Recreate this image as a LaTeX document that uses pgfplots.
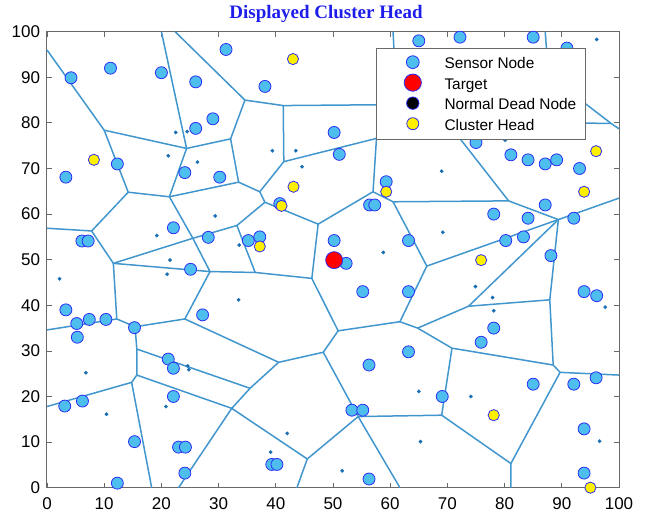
\documentclass[border=0pt]{standalone}
\usepackage{pgfplots}
\pgfplotsset{compat=1.18}
\usepackage{fontspec}
\setmainfont{Liberation Sans}
\newfontfamily\titlefont{Liberation Serif}

\definecolor{edgeblue}{RGB}{66,150,206}
\definecolor{nodefill}{RGB}{77,190,238}
\definecolor{nodeedge}{RGB}{45,45,245}
\definecolor{deadblue}{RGB}{25,110,180}
\definecolor{axisgray}{RGB}{105,105,105}
\definecolor{titleblue}{RGB}{30,30,235}
\definecolor{chyellow}{RGB}{255,240,0}

\pgfplotsset{
  vor/.style={edgeblue, line width=1.5pt, forget plot},
}

\begin{document}
\begin{tikzpicture}
\begin{axis}[
  name=ax,
  scale only axis, width=572pt, height=456pt,
  xmin=0, xmax=100, ymin=0, ymax=100,
  xtick={0,10,...,100}, ytick={0,10,...,100},
  tick align=inside, major tick length=5pt,
  axis line style={axisgray, line width=1pt},
  tick style={axisgray, line width=0.8pt},
  tick label style={font=\fontsize{17}{19}\selectfont},
  /pgf/number format/assume math mode=true,
  xticklabel style={yshift=-6pt},
  yticklabel style={xshift=-3.5pt},
  clip=false,
  title={\titlefont\bfseries Displayed Cluster Head},
  title style={font=\fontsize{19}{22}\selectfont, text=titleblue, xshift=-7pt, yshift=0pt},
  legend style={
    at={(axis cs:94.2,96.5)}, anchor=north east,
    draw=axisgray, line width=1pt, fill=white,
    font=\fontsize{15.4}{18}\selectfont,
    inner xsep=0pt, inner ysep=4.75pt, row sep=0pt,
    nodes={inner sep=0pt},
    cells={anchor=base west},
  },
  legend image code/.code={
    \draw[#1] plot coordinates {(0pt,6.5pt)};
    \path[draw=none, fill=none] (-36.6pt,-4.75pt) rectangle (31.7pt,15.75pt);
  },
]

% ---- legend entries ----
\addlegendimage{mark=*, mark size=6.4pt, mark options={fill=nodefill, draw=nodeedge, line width=0.8pt}}
\addlegendentry{Sensor Node}
\addlegendimage{mark=*, mark size=8.6pt, mark options={fill=red, draw=nodeedge, line width=0.8pt}}
\addlegendentry{Target}
\addlegendimage{mark=*, mark size=6.2pt, mark options={fill=black, draw=nodeedge, line width=0.8pt}}
\addlegendentry{Normal Dead Node\hspace*{9pt}}
\addlegendimage{mark=*, mark size=6.0pt, mark options={fill=chyellow, draw=nodeedge, line width=0.8pt}}
\addlegendentry{Cluster Head}

% ---- Voronoi edges ----
\addplot[vor] coordinates {(0,96) (10.0,78.4) (24.4,74.4) (32.1,76.5) (34.6,85.0) (41.3,83.8) (60,84)};
\addplot[vor] coordinates {(10.0,78.4) (14.2,64.8) (21.4,63.8) (24.4,74.4) (20.0,100)};
\addplot[vor] coordinates {(22.4,100) (34.6,85.0)};
\addplot[vor] coordinates {(32.1,76.5) (33.5,67.0) (21.4,63.8)};
\addplot[vor] coordinates {(33.5,67.0) (37.2,64.9) (41.4,71.5) (41.3,83.8)};
\addplot[vor] coordinates {(41.4,71.5) (57.6,76.6) (59,77.2)};
\addplot[vor] coordinates {(57.7,77.5) (57.6,76.6) (57.0,64.9) (47.4,57.8) (38.1,62.6) (37.2,64.9)};
\addplot[vor] coordinates {(57.0,64.9) (60.5,62.7) (80.7,62.9) (71.8,77.2)};
\addplot[vor] coordinates {(38.1,62.6) (33.2,57.5) (25.5,54.7) (21.4,63.8)};
\addplot[vor] coordinates {(14.2,64.8) (7.8,56.3) (0,56.9)};
\addplot[vor] coordinates {(7.8,56.3) (11.6,49.2) (25.5,54.7) (28.5,47.4) (11.6,49.2)};
\addplot[vor] coordinates {(33.2,57.5) (36.4,47.2) (28.5,47.4) (24.1,37.0)};
\addplot[vor] coordinates {(36.4,47.2) (46.3,45.9) (47.4,57.8)};
\addplot[vor] coordinates {(46.3,45.9) (50.9,34.4) (48.3,29.7) (40.5,27.5) (24.1,37.0) (15.4,35.3) (12.2,37.0) (11.6,49.2)};
\addplot[vor] coordinates {(12.2,37.0) (0,34.6)};
\addplot[vor] coordinates {(15.4,35.3) (15.7,30.4) (15.7,24.7) (14.8,23.1) (0,17.8)};
\addplot[vor] coordinates {(14.8,23.1) (18.3,0)};
\addplot[vor] coordinates {(15.7,30.4) (35.5,21.8) (40.5,27.5)};
\addplot[vor] coordinates {(15.7,24.7) (32.3,17.4) (35.5,21.8)};
\addplot[vor] coordinates {(32.3,17.4) (23.0,0)};
\addplot[vor] coordinates {(32.3,17.4) (45.5,6.3) (54.4,15.6) (48.3,29.7)};
\addplot[vor] coordinates {(45.5,6.3) (43.7,0)};
\addplot[vor] coordinates {(54.4,15.6) (61.7,0)};
\addplot[vor] coordinates {(54.4,15.6) (69.0,15.9) (81.1,5.3) (81.1,0)};
\addplot[vor] coordinates {(50.9,34.4) (61.7,36.4) (66.4,48.6) (60.5,62.7)};
\addplot[vor] coordinates {(66.4,48.6) (89.4,58.8) (100,63.5)};
\addplot[vor] coordinates {(80.7,62.9) (89.4,58.8) (87.9,41.2) (88.5,26.9) (89.7,25.3) (100,24.7)};
\addplot[vor] coordinates {(89.7,25.3) (81.1,5.3)};
\addplot[vor] coordinates {(61.7,36.4) (64.8,35.0) (73.7,39.8) (89.4,58.8)};
\addplot[vor] coordinates {(73.7,39.8) (87.9,41.2)};
\addplot[vor] coordinates {(64.8,35.0) (70.8,30.6) (88.5,26.9)};
\addplot[vor] coordinates {(70.8,30.6) (69.0,15.9)};
\addplot[vor] coordinates {(60.5,100) (60.7,95)};
\addplot[vor] coordinates {(87.1,100) (87.4,95)};
\addplot[vor] coordinates {(93,85.3) (98.6,79.9) (100,78.7)};
\addplot[vor] coordinates {(93,79.95) (98.6,79.9)};

% ---- normal dead nodes ----
\addplot[only marks, mark=*, mark size=1.8pt, mark options={fill=deadblue, draw=deadblue, line width=0.2pt}, forget plot] coordinates {
(96.1,98.3) (43.1,94.2) (22.5,77.9) (24.5,78.1) (21.2,72.8) (26.3,71.4)
(39.4,73.9) (43.5,73.9) (44.6,70.4) (69.0,69.4) (80.1,76.2)
(19.2,55.3) (29.4,59.6) (21.5,49.9) (21.0,46.8) (2.2,45.8) (33.5,41.2)
(33.6,53.2) (58.8,51.6) (69.2,56.0) (74.9,44.1) (77.9,41.7) (78.1,38.8)
(97.6,39.6) (6.8,25.2) (24.6,26.7) (24.8,25.9) (10.4,16.1) (20.8,17.8)
(65.0,21.1) (74.1,20.0) (42.0,11.9) (39.1,7.8) (51.6,3.7) (65.3,10.1) (96.6,10.2)
};

% ---- sensor nodes ----
\addplot[only marks, mark=*, mark size=6.0pt, mark options={fill=nodefill, draw=nodeedge, line width=0.8pt}, forget plot] coordinates {
(65.0,98.0) (72.2,98.8) (85.0,98.8) (90.9,96.4)
(31.3,96.1) (11.1,92.0) (4.2,89.9) (20.0,91.0) (26.0,89.0) (38.1,88.0)
(29.0,80.9) (26.0,78.8) (50.2,77.9) (51.1,73.1)
(12.3,71.0) (3.3,68.1) (24.1,69.1) (30.2,68.1)
(75.0,75.7) (81.1,73.0) (84.1,71.9) (87.1,71.0) (89.1,71.9) (93.1,70.0)
(59.3,67.1) (40.7,62.3) (56.4,62.0) (57.3,62.0)
(87.1,62.0) (78.1,60.0) (84.1,59.1) (92.1,59.1)
(22.1,57.0) (28.2,54.9) (6.1,54.1) (7.2,54.1) (35.2,54.2) (37.2,55.0)
(50.2,54.2) (52.3,49.2) (63.2,54.2) (80.2,54.2) (83.3,55.0) (88.1,50.9)
(25.1,47.9) (55.2,43.0) (63.2,43.0) (93.9,43.0) (96.1,42.1)
(3.3,39.0) (27.2,37.9) (5.2,36.0) (7.4,36.9) (10.3,36.9) (15.3,35.1) (5.3,33.0)
(78.1,35.0) (75.9,31.9) (63.2,29.8) (56.3,26.9) (21.2,28.2) (22.1,26.2)
(85.0,22.7) (92.1,22.7) (96.0,24.1) (22.1,20.0) (3.1,17.9) (6.2,19.0)
(69.1,20.0) (53.3,17.0) (55.2,17.0) (93.9,12.9) (15.3,10.1)
(23.0,8.9) (24.2,8.9) (39.3,5.1) (40.2,5.1)
(24.1,3.2) (12.3,1.0) (56.3,1.9) (93.9,3.2)
};

% ---- cluster heads ----
\addplot[only marks, mark=*, mark size=5.6pt, mark options={fill=chyellow, draw=nodeedge, line width=0.8pt}, forget plot] coordinates {
(43.0,94.0) (8.2,71.9) (43.1,66.0) (41.0,61.8) (59.3,64.9) (37.2,52.9)
(75.9,49.9) (93.9,64.9) (96.0,73.8) (78.1,15.9) (95.0,0.0)
};

% ---- target ----
\addplot[only marks, mark=*, mark size=8.5pt, mark options={fill=red, draw=nodeedge, line width=0.8pt}, forget plot] coordinates {(50.2,49.9)};

\end{axis}
\path ([shift={(-47pt,-27.3pt)}]ax.south west) rectangle ([shift={(27pt,31.7pt)}]ax.north east);
\end{tikzpicture}
\end{document}
